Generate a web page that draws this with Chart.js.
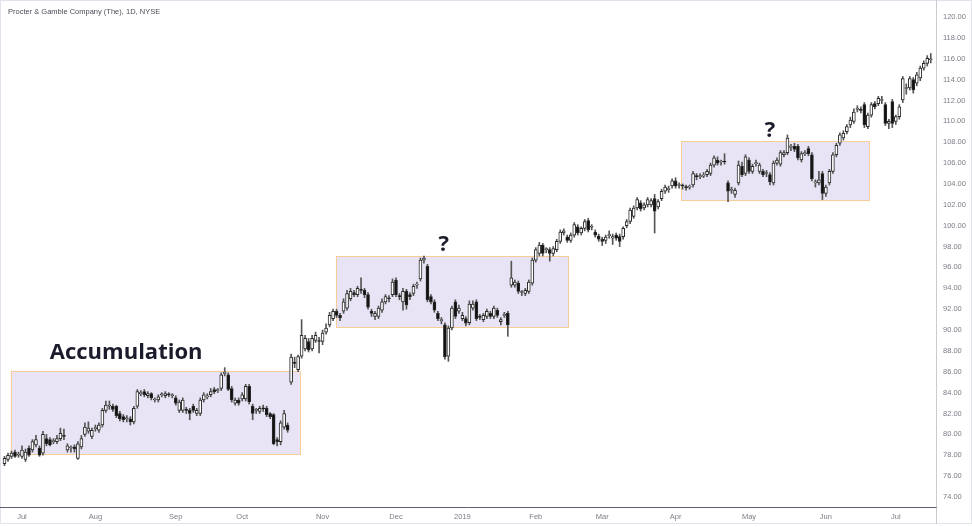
<!DOCTYPE html>
<html><head><meta charset="utf-8">
<script src="https://cdn.jsdelivr.net/npm/chart.js@4.4.1/dist/chart.umd.min.js"></script>
<style>html,body{margin:0;padding:0;background:#fff;}#wrap{position:relative;width:972px;height:527px;}canvas{display:block;}</style>
</head><body><div id="wrap"><canvas id="c" width="972" height="527"></canvas></div>
<script>
const chartTitle = 'Procter & Gamble Company (The), 1D, NYSE';

const opens = [
77.2,77.6,77.9,78.3,78.0,77.9,77.6,78.7,78.5,79.0,
78.7,78.2,79.6,79.5,79.3,79.3,79.6,79.9,78.5,78.7,
78.8,77.7,78.8,80.0,80.3,79.8,80.55,80.4,80.9,82.3,
82.7,82.7,82.7,82.0,81.7,81.5,81.5,81.2,82.7,83.9,
84.1,83.7,83.9,83.3,83.3,83.8,83.7,83.85,83.7,83.5,
82.3,82.3,82.35,82.3,82.7,82.0,82.0,83.3,83.6,83.8,
84.3,84.2,84.4,85.85,85.7,84.4,83.0,83.3,83.4,83.4,
84.6,82.7,82.3,82.2,82.5,82.5,82.0,81.9,79.5,79.3,
80.7,80.9,85.0,86.9,86.2,87.5,88.2,88.9,88.2,89.0,
88.95,88.9,89.8,90.5,91.1,91.8,91.4,91.8,92.1,93.0,
93.6,93.4,93.85,93.8,93.4,91.8,91.3,91.3,91.9,92.7,
93.05,93.4,94.8,93.25,92.7,93.7,93.4,93.5,94.3,94.9,
96.7,96.1,93.2,92.7,91.6,90.9,90.5,87.5,90.2,92.7,
91.8,91.1,91.1,90.7,92.1,92.7,91.35,91.0,91.3,91.6,
91.3,91.9,90.8,91.4,91.6,94.3,94.3,94.5,93.6,93.5,
93.7,94.5,96.7,97.35,98.15,97.7,97.7,97.35,97.7,98.5,
99.3,98.9,98.6,99.1,99.9,99.3,99.75,100.5,99.85,99.4,
99.0,98.7,98.6,99.05,98.8,99.1,98.95,98.95,100.0,100.4,
100.9,101.7,102.2,101.7,102.0,102.0,102.6,101.8,102.6,103.3,
103.45,103.8,104.3,103.85,103.85,103.75,103.7,103.9,104.75,104.7,
104.75,104.9,105.0,105.8,106.3,106.1,106.15,104.1,103.4,103.0,
104.1,105.7,105.0,106.3,105.2,105.95,105.2,105.2,105.0,104.9,
104.1,106.0,105.9,106.8,107.0,107.5,107.6,107.6,106.3,106.9,
107.4,106.8,104.1,104.1,105.0,103.1,104.1,105.2,106.8,107.9,
108.4,109.0,109.65,110.0,111.15,111.1,111.6,109.5,110.6,111.7,
111.7,112.0,111.6,109.8,111.9,110.0,110.45,112.05,113.15,113.2,
114.0,113.65,114.15,115.1,115.55,115.9
];
const highs = [
77.9,78.2,78.4,78.5,78.3,78.9,78.6,78.9,79.5,79.9,
78.9,80.3,80.0,79.7,79.6,79.9,80.6,80.5,79.1,78.9,
79.0,79.3,79.9,81.1,81.2,80.6,80.9,81.1,82.5,83.2,
83.2,82.9,82.8,82.2,81.9,81.8,81.7,82.7,84.3,84.2,
84.3,84.1,84.0,83.5,83.8,84.0,84.1,84.0,83.9,83.7,
83.3,83.5,82.6,82.5,82.9,82.5,83.5,84.0,83.9,84.4,
84.5,84.4,85.9,86.4,85.9,84.6,83.5,83.5,84.0,84.8,
84.8,82.9,82.5,82.7,82.8,82.7,82.1,82.0,79.7,81.3,
82.3,81.1,87.7,87.4,87.6,91.0,89.5,89.2,89.5,89.8,
89.3,90.0,90.6,91.7,92.0,92.0,91.6,93.0,93.8,94.0,
93.8,94.2,95.0,94.0,93.6,92.0,91.8,92.3,93.0,93.4,
93.3,94.9,95.0,93.5,94.0,93.9,93.6,94.4,94.6,96.9,
97.1,96.3,93.4,92.9,91.8,91.2,90.7,90.4,92.3,92.9,
92.4,91.7,91.3,92.8,92.8,92.9,91.5,91.6,92.0,91.8,
92.3,92.1,91.2,91.7,91.8,96.6,94.8,94.7,93.8,94.0,
94.8,96.9,97.9,98.4,98.3,97.9,97.9,98.0,98.7,99.6,
99.7,99.1,99.3,100.3,100.1,99.9,100.6,100.7,100.1,99.6,
99.2,98.9,99.1,99.5,99.2,99.3,99.2,99.9,100.6,101.7,
101.9,102.7,102.4,102.2,102.7,102.6,103.0,102.5,103.5,103.9,
103.8,104.5,104.6,104.1,104.0,103.9,103.9,105.2,105.0,105.0,
105.1,105.4,106.0,106.7,106.6,106.3,106.9,104.3,103.7,103.6,
106.2,106.1,106.8,106.5,105.9,106.3,106.0,105.4,105.3,105.1,
106.2,106.5,107.2,107.2,108.7,107.8,107.9,107.8,107.1,107.2,
107.6,107.0,104.4,105.2,105.2,103.9,105.4,107.0,107.9,108.9,
109.1,109.7,110.4,111.2,111.5,111.4,111.8,110.8,111.8,111.9,
112.4,112.4,111.8,110.2,112.1,110.6,111.6,114.3,113.6,114.3,
114.2,114.7,115.3,115.8,116.3,116.5
];
const lows = [
77.0,77.4,77.7,77.8,77.8,77.7,77.4,77.9,78.3,78.8,
77.9,78.0,78.9,78.9,79.1,79.1,79.4,79.5,78.3,78.3,
78.3,77.6,78.6,79.8,80.1,79.6,80.3,80.2,80.7,82.1,
82.4,82.2,81.6,81.3,81.2,81.2,80.9,81.0,82.5,83.7,
83.6,83.5,83.3,83.1,83.1,83.6,83.5,83.6,83.5,82.8,
82.1,82.1,82.0,81.4,82.1,81.8,81.8,83.1,83.4,83.6,
83.9,84.0,84.2,85.6,84.2,83.1,82.8,82.8,83.2,83.2,
82.9,81.4,82.0,82.0,82.2,81.7,81.5,79.0,78.9,79.0,
80.5,80.2,84.8,86.4,86.0,87.3,88.0,87.9,88.0,88.8,
87.8,88.6,89.6,90.3,90.9,91.2,90.9,91.6,91.9,92.8,
93.2,93.2,93.5,93.1,92.0,91.3,91.0,91.1,91.7,92.5,
92.7,93.2,93.2,92.9,91.9,92.0,92.9,93.3,94.0,94.7,
96.4,92.7,92.5,91.7,90.9,90.6,87.2,87.0,90.0,91.1,
91.6,90.9,90.4,90.5,91.9,90.9,91.0,90.8,91.1,91.1,
91.1,91.2,90.5,91.2,89.4,94.1,94.1,93.5,93.3,93.3,
93.5,94.3,96.5,97.1,97.1,97.4,96.6,97.1,97.5,98.3,
99.1,98.4,98.4,98.9,99.1,99.1,99.5,99.4,99.6,98.9,
98.5,98.1,98.3,98.8,98.2,98.6,98.0,98.7,99.8,100.2,
100.7,101.5,101.4,101.5,101.8,101.8,99.3,101.6,102.4,103.1,
103.2,103.6,103.6,103.6,103.5,103.4,103.5,103.7,104.4,104.5,
104.6,104.7,104.8,105.6,105.8,105.8,105.9,102.3,103.1,102.7,
103.9,104.7,104.8,105.0,105.0,105.7,105.0,104.7,104.7,103.9,
103.9,105.8,105.7,106.6,106.8,107.2,107.1,106.3,106.1,106.7,
106.7,104.3,103.7,103.9,102.5,102.8,103.9,105.0,106.6,107.7,
108.2,108.8,109.4,109.8,110.9,110.8,109.4,109.3,110.4,111.2,
111.5,111.7,109.6,109.3,109.4,109.7,110.2,111.8,112.6,113.0,
112.7,113.4,113.9,114.9,115.3,115.6
];
const closes = [
77.7,78.0,78.2,77.9,78.05,78.5,78.3,78.0,79.3,79.5,
78.0,80.0,79.1,79.0,79.4,79.6,80.1,79.8,78.9,78.7,
78.6,79.1,79.6,80.7,80.6,80.4,80.6,80.9,82.3,82.8,
82.75,82.4,81.8,81.5,81.4,81.55,81.2,82.5,84.1,83.95,
83.8,83.9,83.5,83.35,83.6,83.85,83.9,83.8,83.7,83.0,
83.1,83.3,82.3,82.0,82.3,82.3,83.3,83.8,83.65,84.1,
84.1,84.25,85.7,85.9,84.3,83.3,83.3,83.0,83.8,84.6,
83.1,82.0,82.35,82.5,82.45,81.9,81.7,79.1,79.3,81.1,
82.0,80.4,87.4,86.8,87.45,89.5,89.2,88.1,89.2,89.5,
88.9,89.7,90.2,91.4,91.8,91.4,91.15,92.7,93.5,93.7,
93.4,94.0,93.8,93.4,92.2,91.6,91.6,92.1,92.7,93.2,
93.0,94.6,93.4,93.2,93.7,92.4,93.2,94.2,94.35,96.7,
96.9,92.9,92.7,91.9,91.1,91.0,87.45,90.2,92.1,91.3,
92.1,91.4,90.65,92.5,92.5,91.1,91.2,91.4,91.8,91.3,
92.1,91.4,91.0,91.45,90.5,95.0,94.6,93.7,93.6,93.8,
94.6,96.7,97.7,98.15,97.35,97.75,97.35,97.8,98.5,99.4,
99.5,98.6,99.1,100.1,99.3,99.75,100.4,99.6,99.9,99.1,
98.7,98.5,98.9,99.1,98.95,98.8,98.5,99.75,100.4,101.5,
101.7,102.5,101.6,102.0,102.5,102.4,101.4,102.3,103.3,103.7,
103.5,104.3,103.8,103.9,103.8,103.65,103.75,105.0,104.7,104.75,
104.85,105.2,105.8,106.5,106.0,106.15,106.1,103.3,103.45,103.4,
105.8,104.9,106.6,105.2,105.7,106.0,105.8,104.9,105.05,104.2,
106.0,106.3,107.0,107.0,108.4,107.55,107.3,106.5,106.9,107.0,
106.9,104.5,104.2,104.4,103.1,103.7,105.2,106.8,107.7,108.7,
108.86,109.5,110.13,110.9,111.2,111.05,109.65,110.6,111.6,111.4,
112.2,112.05,109.8,110.0,109.8,110.45,111.4,114.1,113.2,114.1,
113.0,114.45,115.1,115.55,116.05,115.95
];

const xTickIndex = [5,26,49,68,91,112,131,152,171,192,213,235,255];
const xTickLabels = ['Jul','Aug','Sep','Oct','Nov','Dec','2019','Feb','Mar','Apr','May','Jun','Jul'];
const yTicks = [74,76,78,80,82,84,86,88,90,92,94,96,98,100,102,104,106,108,110,112,114,116,118,120];

// highlighted ranges (bar index / price)
const boxStart = [1.77, 94.8, 193.5];
const boxEnd   = [84.5, 161.3, 247.4];
const boxLow   = [78.1, 90.3, 102.4];
const boxHigh  = [86.1, 97.1, 108.1];

const noteText  = ['Accumulation', '?', '?'];
const noteIndex = [34.8, 125.7, 219.0];
const notePrice = [87.2, 97.6, 108.5];

const wickData = closes.map((c, i) => ({x: i, y: [lows[i], highs[i]]}));
const bodyData = closes.map((c, i) => ({x: i, y: [opens[i], c]}));
const bodyFill = closes.map((c, i) => c >= opens[i] ? '#ffffff' : '#111111');

const overlay = {
  id: 'overlay',
  beforeDatasetsDraw(chart) {
    const {ctx, chartArea, scales: {x, y}} = chart;
    ctx.save();
    ctx.beginPath(); ctx.rect(chartArea.left, chartArea.top, chartArea.right - chartArea.left, chartArea.bottom - chartArea.top); ctx.clip();
    for (let k = 0; k < boxStart.length; k++) {
      const x0 = x.getPixelForValue(boxStart[k]), x1 = x.getPixelForValue(boxEnd[k]);
      const y0 = y.getPixelForValue(boxHigh[k]), y1 = y.getPixelForValue(boxLow[k]);
      ctx.fillStyle = 'rgba(232,228,245,1)';
      ctx.fillRect(x0, y0, x1 - x0, y1 - y0);
      ctx.strokeStyle = '#f8cc96';
      ctx.lineWidth = 1;
      ctx.strokeRect(Math.round(x0) + 0.5, Math.round(y0) + 0.5, Math.round(x1 - x0), Math.round(y1 - y0));
    }
    ctx.restore();
  },
  afterDatasetsDraw(chart) {
    const {ctx, scales: {x, y}} = chart;
    ctx.save();
    ctx.fillStyle = '#1b1c2b';
    ctx.textAlign = 'center';
    ctx.textBaseline = 'alphabetic';
    for (let k = 0; k < noteText.length; k++) {
      ctx.font = k === 0 ? 'bold 22px "Open Sans", sans-serif' : 'bold 22px "Open Sans", sans-serif';
      ctx.fillText(noteText[k], x.getPixelForValue(noteIndex[k]), y.getPixelForValue(notePrice[k]));
    }
    ctx.restore();
  },
  afterDraw(chart) {
    const {ctx, chartArea} = chart;
    ctx.save();
    // outer frame
    ctx.strokeStyle = '#e0e3eb';
    ctx.lineWidth = 1;
    ctx.strokeRect(0.5, 0.5, 971, 523);
    // price axis separator
    ctx.strokeStyle = '#c9cbd1';
    ctx.beginPath(); ctx.moveTo(Math.round(chartArea.right) + 0.5, 0); ctx.lineTo(Math.round(chartArea.right) + 0.5, 524); ctx.stroke();
    // time axis line
    ctx.strokeStyle = '#5d606b';
    ctx.beginPath(); ctx.moveTo(0, Math.round(chartArea.bottom) + 0.5); ctx.lineTo(Math.round(chartArea.right) + 0.5, Math.round(chartArea.bottom) + 0.5); ctx.stroke();
    // title
    ctx.fillStyle = '#4a4d57';
    ctx.font = '7.5px "Liberation Sans", Arial, sans-serif';
    ctx.textAlign = 'left';
    ctx.textBaseline = 'middle';
    ctx.fillText(chartTitle, 8, 12);
    ctx.restore();
  }
};

new Chart(document.getElementById('c'), {
  type: 'bar',
  data: {
    datasets: [
      {data: bodyData, backgroundColor: bodyFill, borderColor: '#2a2a2a', borderWidth: 1, borderSkipped: false,
       barThickness: 3, grouped: false, order: 1, minBarLength: 1},
      {data: wickData, backgroundColor: '#555555', borderWidth: 0, barThickness: 1, grouped: false, order: 2}
    ]
  },
  options: {
    responsive: false, animation: false, events: [],
    layout: {padding: 0},
    plugins: {legend: {display: false}, tooltip: {enabled: false}, title: {display: false}},
    scales: {
      x: {
        type: 'linear', min: -1.29, max: 266.5, offset: false,
        grid: {display: false, drawTicks: false}, border: {display: false},
        afterBuildTicks: s => { s.ticks = xTickIndex.map(v => ({value: v})); },
        afterFit: s => { s.height = 20; s.paddingLeft = 0; s.paddingRight = 0; },
        ticks: {autoSkip: false, maxRotation: 0, minRotation: 0, padding: 5, color: '#7a7d86',
                font: {family: '"Liberation Sans", Arial, sans-serif', size: 7.5},
                callback: (v, i) => xTickLabels[i]}
      },
      y: {
        position: 'right', min: 73.0417, max: 121.629, beginAtZero: false,
        grid: {display: false, drawTicks: false}, border: {display: false},
        afterBuildTicks: s => { s.ticks = yTicks.map(v => ({value: v})); },
        afterFit: s => { s.width = 36; s.paddingTop = 0; s.paddingBottom = 0; },
        ticks: {padding: 7, color: '#7a7d86', font: {family: '"Liberation Sans", Arial, sans-serif', size: 7.5},
                callback: v => Number(v).toFixed(2)}
      }
    }
  },
  plugins: [overlay]
});
</script></body></html>
